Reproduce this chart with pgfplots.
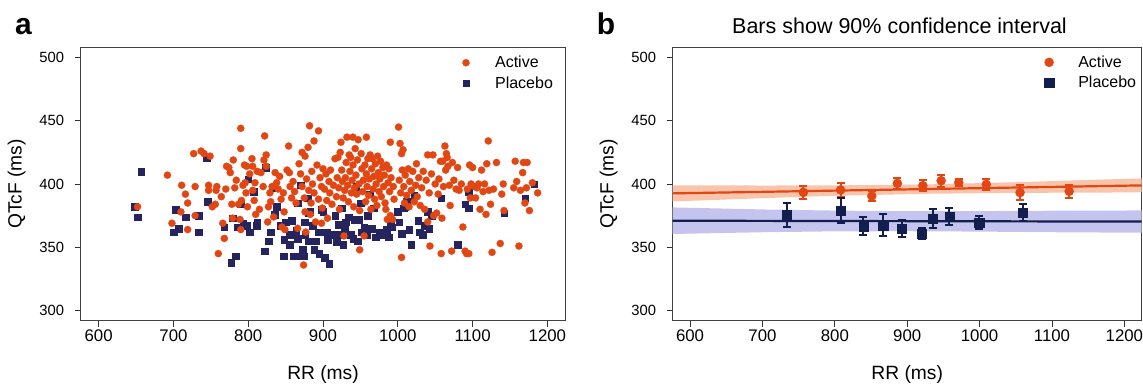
\documentclass[border=0pt]{standalone}
\usepackage{fontspec}
\setmainfont{Liberation Sans}
\usepackage{pgfplots}
\pgfplotsset{compat=1.18}
\definecolor{actO}{RGB}{226,70,18}
\definecolor{navA}{RGB}{37,36,94}
\definecolor{navB}{RGB}{18,30,78}
\definecolor{bandO}{RGB}{249,196,172}
\definecolor{bandB}{RGB}{196,196,238}
\newcommand{\ytfont}{\fontsize{14.8}{16}\selectfont}
\newcommand{\xtfont}{\fontsize{16.8}{18}\selectfont}
\newcommand{\labfont}{\fontsize{19.2}{21}\selectfont}
\newcommand{\legfont}{\fontsize{16}{18}\selectfont}
\pgfplotsset{
  panel/.style={
    scale only axis, height=273.4pt,
    xmin=576, xmax=1224, ymin=292, ymax=508,
    xtick={600,700,...,1200}, ytick={300,350,...,500},
    xtick pos=left, ytick pos=left, tick align=outside,
    major tick length=6pt,
    tick style={line width=0.8pt, color=black!80},
    axis line style={line width=1pt, draw=black!75},
    /pgf/number format/assume math mode=true,
    /pgf/number format/1000 sep={},
    scaled ticks=false,
    xticklabel style={font=\xtfont},
    yticklabel style={font=\ytfont, xshift=-7pt},
    xlabel={RR (ms)}, ylabel={QTcF (ms)},
    xlabel style={font=\labfont, at={([yshift=-58.6pt]axis description cs:0.5,0)}, anchor=base},
    ylabel style={font=\labfont, at={([xshift=-64pt]axis description cs:0,0.5)}, anchor=center},
    legend cell align=left,
  }
}
\begin{document}
\begin{tikzpicture}
\useasboundingbox (0pt,0pt) rectangle (1143pt,384pt);
\node[anchor=base west, inner sep=0pt, font=\fontsize{30}{30}\selectfont\bfseries] at (15pt,349pt) {a};
\node[anchor=base west, inner sep=0pt, font=\fontsize{30}{30}\selectfont\bfseries] at (596.7pt,349pt) {b};
% ---------------- panel a ----------------
\begin{axis}[panel, at={(80.7pt,63.3pt)}, anchor=south west, width=484.6pt,
  reverse legend,
  legend style={draw=none, fill=none, inner sep=0pt, font=\legfont,
    at={(axis description cs:0,1)}, anchor=north west, xshift=381.5pt, yshift=-8.7pt,
    nodes={inner sep=0pt}, row sep=7.2pt, column sep=25.5pt},
  legend image code/.code={\draw[#1] plot coordinates {(0pt,0pt)};}]
\addplot[only marks, color=navA, mark=square*, mark size=3.3pt, mark options={fill=navA, draw=navA, line width=0.2pt}] coordinates {
(648,382)(652,374)(657,410)(700,362)(703,380)(707,365)(716,374)(734,362)(734,375)(744,421)
(746,386)(768,366)(777,338)(779,373)(783,343)(785,366)(790,384)(793,369)(798,367)(800,404)
(802,362)(807,394)(811,367)(812,370)(822,347)(823,413)(827,355)(830,362)(833,397)(835,376)
(838,382)(843,367)(847,343)(848,356)(850,370)(855,360)(858,371)(860,343)(863,343)(864,363)
(866,357)(870,399)(873,348)(874,343)(875,370)(876,360)(879,389)(880,377)(881,355)(883,378)
(888,348)(891,355)(894,362)(898,380)(900,378)(902,342)(905,362)(906,356)(908,337)(912,360)
(916,375)(918,354)(922,360)(925,381)(927,352)(929,365)(934,374)(937,360)(940,357)(942,372)
(944,398)(946,355)(948,372)(952,362)(955,366)(958,360)(962,392)(965,365)(968,381)(970,358)
(975,362)(980,360)(988,358)(990,370)(992,366)(1000,378)(1005,361)(1008,381)(1010,382)(1012,386)
(1015,364)(1018,352)(1022,391)(1027,371)(1029,362)(1033,360)(1036,367)(1040,378)(1042,365)(1045,375)
(1058,389)(1080,352)(1090,384)(1095,394)(1095,381)(1142,377)(1170,389)(1182,400)
(866,385)(886,367)(920,368)(950,385)(960,375)(985,364)(855,352)(895,345)(930,370)(1002,370)
};
\addlegendentry{Placebo}
\addplot[only marks, color=actO, mark=*, mark size=3.6pt, mark options={fill=actO, draw=actO, line width=0.2pt}] coordinates {
(652,382)(692,407)(698,369)
(711,399)(710,378)(719,385)(716,392)(719,364)(727,424)(729,398)(729,375)(737,426)(741,424)
(747,395)(749,422)(747,399)(752,382)(756,384)(757,395)(758,398)
(760,345)(764,390)(766,369)(768,357)(770,396)(771,414)(774,413)(776,409)(778,384)(779,373)
(780,419)(782,397)(784,403)(787,384)(789,372)(790,444)(790,428)(790,364)(791,387)(793,399)
(795,415)(796,401)(798,414)(799,382)(797,393)
(802,408)(805,420)(806,414)(806,395)(808,387)(809,401)(810,376)(812,410)(815,380)(817,409)
(820,398)(821,419)(822,438)(824,414)(824,423)(826,370)(827,382)(829,393)(830,386)(832,398)
(834,374)(836,409)(838,401)(840,396)(842,406)(844,388)(845,366)(847,393)(848,378)(849,364)
(852,411)(854,430)(855,409)(856,398)(858,389)(860,402)(862,394)(864,385)(866,365)(868,416)
(870,408)(872,425)(872,398)(874,336)(875,389)(876,422)(876,378)(877,362)(878,404)(880,429)
(881,395)(882,446)(883,376)(884,385)(885,410)(886,400)(888,434)(888,393)(890,370)(892,415)
(894,442)(894,388)(896,405)(898,398)(899,381)(900,412)(898,369)
(902,396)(904,408)(905,387)(906,373)(908,402)(909,393)(910,411)(912,384)(914,399)(916,420)
(918,390)(919,405)(920,421)(921,397)(922,380)(923,425)(924,433)(925,411)(926,402)(927,389)
(928,359)(929,395)(930,405)(931,417)(932,437)(933,399)(934,386)(935,423)(936,410)(937,421)
(938,393)(939,403)(940,437)(940,415)(941,382)(942,397)(943,428)(944,407)(945,392)(946,419)
(947,435)(948,400)(949,348)(949,379)
(951,424)(952,412)(953,394)(954,403)(955,359)(956,415)(957,386)(958,437)(958,408)(959,398)
(960,420)(961,391)(962,404)(963,423)(964,380)(965,412)(966,420)(967,396)(968,406)(969,388)
(970,416)(971,400)(972,383)(973,422)(974,409)(975,394)(976,404)(977,418)(978,390)(980,413)
(981,398)(982,407)(983,385)(984,380)(985,415)(986,372)(987,401)(988,412)(989,394)(990,433)
(990,375)(991,405)(993,372)(994,398)(995,388)
(1001,445)(1002,403)(1003,432)(1004,393)(1005,424)(1005,342)(1006,411)(1007,427)(1008,398)(1009,385)
(1010,407)(1012,391)(1014,412)(1015,382)(1016,402)(1018,395)(1020,410)(1022,386)(1024,399)(1025,416)
(1026,390)(1028,405)(1030,383)(1032,397)(1034,410)(1036,380)(1038,403)(1040,423)(1040,370)(1042,393)
(1043,351)(1045,408)(1047,423)(1048,375)(1050,400)
(1052,377)(1054,392)(1055,404)(1057,418)(1058,345)(1059,373)(1060,418)(1061,398)(1063,430)(1064,411)
(1065,424)(1066,421)(1067,414)(1069,399)(1070,383)(1072,347)(1073,417)(1075,403)(1078,396)(1080,413)
(1082,395)(1085,400)(1087,366)(1090,347)(1092,345)(1093,396)(1095,345)(1096,415)(1097,389)(1098,400)
(1100,413)(1102,398)(1104,389)(1106,397)(1108,400)(1110,380)(1112,411)(1114,394)(1116,400)(1118,376)
(1119,416)(1121,434)(1122,395)(1124,384)(1126,346)(1128,396)(1132,417)(1137,353)(1139,392)(1141,400)
(1142,379)
(1155,397)(1157,418)(1159,402)(1162,351)(1164,395)(1167,409)(1168,417)(1170,385)(1172,397)(1173,417)
(1176,379)(1180,401)(1187,393)
};
\addlegendentry{Active}
\end{axis}
% ---------------- panel b ----------------
\begin{axis}[panel, at={(672.7pt,63.3pt)}, anchor=south west, width=469pt,
  title={Bars show 90\% confidence interval},
  title style={font=\fontsize{21.5}{24}\selectfont, at={(axis description cs:0.4836,1)}, anchor=base, yshift=8pt},
  legend style={draw=none, fill=none, inner sep=0pt, font=\legfont,
    at={(axis description cs:0,1)}, anchor=north west, xshift=371.6pt, yshift=-8.3pt,
    nodes={inner sep=0pt}, row sep=7.2pt, column sep=24.6pt},
  legend image code/.code={\draw[#1] plot coordinates {(0pt,0pt)};}]
\addplot[fill=bandO, draw=none, forget plot] coordinates {
(576,386.2)(700,388.8)(800,390.7)(930,392.3)(1050,393.0)(1150,393.2)(1224,393.4)
(1224,404.4)(1150,403.2)(1050,401.4)(930,399.7)(800,398.9)(700,398.8)(576,399.0)} -- cycle;
\addplot[fill=bandB, draw=none, forget plot] coordinates {
(576,360.5)(700,361.9)(800,362.6)(900,362.7)(1000,362.4)(1100,361.9)(1224,361.5)
(1224,379.1)(1100,378.9)(1000,378.6)(900,378.5)(800,379.0)(700,379.9)(576,381.5)} -- cycle;
\addplot[actO, line width=2.2pt, forget plot] coordinates {(576,392.6)(1224,398.9)};
\addplot[navB, line width=2.2pt, forget plot] coordinates {(576,371.0)(1224,370.3)};
\addplot[only marks, color=actO, mark=*, mark size=4.6pt, mark options={fill=actO, draw=actO, line width=0.2pt},
  error bars/.cd, y dir=both, y explicit,
  error bar style={line width=2pt, actO},
  error mark options={rotate=90, mark size=4pt, line width=2pt, actO}]
  coordinates {
(756.6,393.4) +- (0,5.4)
(808,395.3) +- (0,5.8)
(851,390.5) +- (0,3.8)
(886.4,400.5) +- (0,4.5)
(921.6,398.7) +- (0,4.6)
(946.9,402.6) +- (0,4.6)
(971.2,401.1) +- (0,2.9)
(1009.3,399.7) +- (0,4.5)
(1055.9,393.2) +- (0,6.0)
(1123.8,394.2) +- (0,4.9)
};
\addlegendentry{Active}
\addplot[only marks, color=navB, mark=square*, mark size=4.6pt, mark options={fill=navB, draw=navB, line width=0.2pt},
  error bars/.cd, y dir=both, y explicit,
  error bar style={line width=2pt, navB},
  error mark options={rotate=90, mark size=4pt, line width=2pt, navB}]
  coordinates {
(733.3,375.5) +- (0,9.5)
(808.1,378.9) +- (0,9.9)
(839.3,366.8) +- (0,7.4)
(866.6,367.6) +- (0,9.0)
(892.4,364.7) +- (0,6.6)
(920.1,361.1) +- (0,4.3)
(935.5,372.9) +- (0,7.4)
(958.3,374.2) +- (0,6.5)
(999.4,369.5) +- (0,5.3)
(1059.4,377.6) +- (0,6.5)
};
\addlegendentry{Placebo}
\end{axis}
\end{tikzpicture}
\end{document}
